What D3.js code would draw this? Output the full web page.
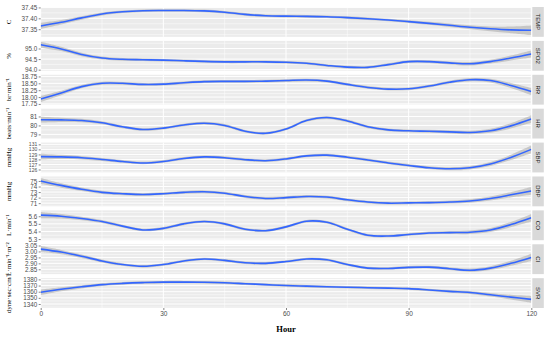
<!DOCTYPE html>
<html><head><meta charset="utf-8">
<script src="https://cdn.jsdelivr.net/npm/d3@7"></script>
<style>body{margin:0;background:#fff}</style>
</head><body>
<svg id="c" width="550" height="337"></svg>
<script>
// ---------------- DATA ----------------
const hours = [0,5,10,15,20,25,30,35,40,45,50,55,60,65,70,75,80,85,90,95,100,105,110,115,120];
const panels = ["TEMP","SPO2","RR","HR","SBP","DBP","CO","CI","SVR"];
const units = ["C","%","br·min⁻¹","beats·min⁻¹","mmHg","mmHg","L·min⁻¹","L·min⁻¹·m⁻²","dyne·sec·cm⁻⁵"];
const xTicks = [0,30,60,90,120];

const valTEMP = [37.365,37.382,37.402,37.420,37.430,37.435,37.436,37.436,37.434,37.428,37.418,37.412,37.410,37.409,37.407,37.403,37.398,37.392,37.385,37.377,37.368,37.359,37.352,37.347,37.345];
const valSPO2 = [95.18,94.98,94.72,94.55,94.49,94.47,94.45,94.42,94.39,94.37,94.37,94.37,94.35,94.30,94.20,94.12,94.11,94.24,94.38,94.38,94.32,94.28,94.38,94.55,94.74];
const valRR   = [17.93,18.15,18.38,18.50,18.50,18.46,18.47,18.52,18.56,18.57,18.57,18.58,18.60,18.62,18.58,18.46,18.35,18.29,18.30,18.40,18.54,18.63,18.60,18.42,18.20];
const valHR   = [80.64,80.62,80.55,80.30,79.85,79.55,79.70,80.05,80.25,80.00,79.35,79.12,79.60,80.55,80.88,80.50,79.85,79.50,79.40,79.35,79.28,79.22,79.40,79.95,80.71];
const valSBP  = [128.55,128.50,128.35,128.00,127.60,127.30,127.60,128.20,128.50,128.35,127.95,127.75,128.10,128.70,128.85,128.45,127.90,127.30,126.80,126.35,126.15,126.35,127.10,128.40,130.00];
const valDBP  = [75.00,74.20,73.50,72.95,72.70,72.55,72.70,72.95,73.05,72.80,72.20,71.85,72.00,72.20,72.10,71.60,71.20,71.00,71.05,71.10,71.20,71.40,71.85,72.50,73.20];
const valCO   = [5.615,5.600,5.570,5.530,5.470,5.420,5.440,5.500,5.530,5.500,5.430,5.410,5.460,5.535,5.520,5.430,5.350,5.340,5.360,5.380,5.385,5.390,5.420,5.490,5.580];
const valCI   = [3.020,2.995,2.960,2.920,2.890,2.875,2.890,2.920,2.937,2.925,2.905,2.900,2.915,2.937,2.930,2.890,2.860,2.857,2.866,2.868,2.855,2.842,2.860,2.900,2.950];
const valSVR  = [1359,1364,1368,1371.5,1373.5,1374.8,1375.5,1375.6,1375.3,1374.5,1373,1371.5,1370,1369,1368,1367.2,1366.5,1365.8,1365,1362.8,1360.5,1358.7,1355,1351.2,1347.5];

// half-width of the confidence band (data units)
const seTEMP = [0.014,0.010,0.008,0.007,0.006,0.006,0.006,0.006,0.006,0.006,0.006,0.006,0.006,0.006,0.006,0.006,0.006,0.006,0.006,0.007,0.008,0.009,0.011,0.015,0.022];
const seSPO2 = [0.14,0.10,0.08,0.07,0.065,0.06,0.06,0.06,0.06,0.06,0.06,0.06,0.06,0.06,0.06,0.06,0.06,0.06,0.06,0.065,0.07,0.08,0.09,0.12,0.17];
const seRR   = [0.11,0.08,0.06,0.055,0.05,0.05,0.05,0.05,0.05,0.05,0.05,0.05,0.05,0.05,0.05,0.05,0.05,0.05,0.05,0.05,0.055,0.06,0.07,0.09,0.13];
const seHR   = [0.33,0.24,0.19,0.17,0.15,0.15,0.15,0.15,0.15,0.15,0.15,0.15,0.15,0.15,0.15,0.15,0.15,0.15,0.15,0.16,0.17,0.19,0.22,0.29,0.42];
const seSBP  = [0.60,0.43,0.34,0.30,0.28,0.27,0.27,0.27,0.27,0.27,0.27,0.27,0.27,0.27,0.27,0.27,0.27,0.27,0.27,0.28,0.30,0.34,0.40,0.52,0.75];
const seDBP  = [0.55,0.40,0.31,0.28,0.26,0.25,0.25,0.25,0.25,0.25,0.25,0.25,0.25,0.25,0.25,0.25,0.25,0.25,0.25,0.26,0.28,0.32,0.37,0.48,0.70];
const seCO   = [0.040,0.029,0.023,0.020,0.018,0.017,0.017,0.017,0.017,0.017,0.017,0.017,0.017,0.017,0.017,0.017,0.017,0.017,0.017,0.018,0.020,0.023,0.026,0.034,0.050];
const seCI   = [0.025,0.018,0.014,0.012,0.011,0.011,0.011,0.011,0.011,0.011,0.011,0.011,0.011,0.011,0.011,0.011,0.011,0.011,0.011,0.011,0.012,0.014,0.016,0.021,0.030];
const seSVR  = [4.6,3.4,2.6,2.3,2.1,2.0,2.0,2.0,2.0,2.0,2.0,2.0,2.0,2.0,2.0,2.0,2.0,2.0,2.0,2.1,2.3,2.6,3.0,3.9,5.6];

const yDomains = [[37.315,37.452],[93.95,95.36],[17.725,18.81],[78.54,81.87],[125.42,131.35],[70.43,75.81],[5.285,5.677],[2.8095,3.0605],[1333.5,1382]];
const yTicksTEMP = [37.35,37.40,37.45];
const yTicksSPO2 = [94.0,94.5,95.0];
const yTicksRR   = [17.75,18.00,18.25,18.50,18.75];
const yTicksHR   = [79,80,81];
const yTicksSBP  = [126,127,128,129,130,131];
const yTicksDBP  = [71,72,73,74,75];
const yTicksCO   = [5.3,5.4,5.5,5.6];
const yTicksCI   = [2.85,2.90,2.95,3.00,3.05];
const yTicksSVR  = [1340,1350,1360,1370,1380];

const values = [valTEMP,valSPO2,valRR,valHR,valSBP,valDBP,valCO,valCI,valSVR];
const ses = [seTEMP,seSPO2,seRR,seHR,seSBP,seDBP,seCO,seCI,seSVR];
const yTicks = [yTicksTEMP,yTicksSPO2,yTicksRR,yTicksHR,yTicksSBP,yTicksDBP,yTicksCO,yTicksCI,yTicksSVR];
const tickFmt = [".2f",".1f",".2f","d","d","d",".1f",".2f","d"];

// ---------------- DRAW ----------------
const svg = d3.select("#c");
const x = d3.scaleLinear().domain([0,120]).range([40.7,531.3]);
const band = d3.scaleBand().domain(panels).range([7,308]).paddingInner(0.12);
const h = band.bandwidth();
const tickCol = "#333333", labCol = "#4D4D4D";
const sans = "'Liberation Sans', Arial, sans-serif";
const serif = "'Liberation Serif', 'Times New Roman', serif";
const xMinor = [15,45,75,105];

panels.forEach((p,i)=>{
  const top = band(p);
  const y = d3.scaleLinear().domain(yDomains[i]).range([top+h, top]);
  const g = svg.append("g");
  const clipId = "clip"+i;
  svg.append("clipPath").attr("id",clipId).append("rect")
    .attr("x",x(0)).attr("y",top).attr("width",x(120)-x(0)).attr("height",h);
  g.append("rect").attr("x",x(0)).attr("y",top).attr("width",x(120)-x(0)).attr("height",h).attr("fill","#EBEBEB");

  const tk = yTicks[i];
  const step = tk[1]-tk[0];
  const minors = [];
  tk.forEach(t=>minors.push(t-step/2));
  minors.push(tk[tk.length-1]+step/2);
  const [d0,d1] = yDomains[i];
  g.selectAll(".ymin").data(minors.filter(m=>m>d0&&m<d1)).enter().append("line")
    .attr("x1",x(0)).attr("x2",x(120)).attr("y1",d=>y(d)).attr("y2",d=>y(d))
    .attr("stroke","#fff").attr("stroke-width",0.5);
  g.selectAll(".xmin").data(xMinor).enter().append("line")
    .attr("x1",d=>x(d)).attr("x2",d=>x(d)).attr("y1",top).attr("y2",top+h)
    .attr("stroke","#fff").attr("stroke-width",0.5);
  g.selectAll(".ymaj").data(tk).enter().append("line")
    .attr("x1",x(0)).attr("x2",x(120)).attr("y1",d=>y(d)).attr("y2",d=>y(d))
    .attr("stroke","#fff").attr("stroke-width",1);
  g.selectAll(".xmaj").data(xTicks).enter().append("line")
    .attr("x1",d=>x(d)).attr("x2",d=>x(d)).attr("y1",top).attr("y2",top+h)
    .attr("stroke","#fff").attr("stroke-width",1);

  const data = hours.map((hr,k)=>({hr, v:values[i][k], se:ses[i][k]}));
  const curve = d3.curveCatmullRom.alpha(0.5);
  const pg = g.append("g").attr("clip-path",`url(#${clipId})`);
  pg.append("path").datum(data)
    .attr("d", d3.area().curve(curve).x(d=>x(d.hr)).y0(d=>y(d.v-d.se)).y1(d=>y(d.v+d.se)))
    .attr("fill","#999999").attr("fill-opacity",0.45);
  pg.append("path").datum(data)
    .attr("d", d3.line().curve(curve).x(d=>x(d.hr)).y(d=>y(d.v)))
    .attr("fill","none").attr("stroke","#3366FF").attr("stroke-width",1.6);

  // y axis
  const ax = g.append("g").attr("transform",`translate(${x(0)},0)`)
    .call(d3.axisLeft(y).tickValues(tk).tickFormat(d3.format(tickFmt[i])).tickSize(2).tickPadding(1.5));
  ax.select(".domain").remove();
  ax.selectAll(".tick line").attr("stroke",tickCol).attr("stroke-width",0.6);
  ax.selectAll(".tick text").attr("fill",labCol).attr("font-size", tk.length>5 ? "5px" : "6.3px").attr("font-family",sans);

  // strip
  g.append("rect").attr("x",532.3).attr("y",top).attr("width",11.5).attr("height",h).attr("fill","#D9D9D9");
  g.append("text").attr("transform",`translate(${538},${top+h/2}) rotate(90)`)
    .attr("text-anchor","middle").attr("dominant-baseline","central")
    .attr("font-size","6px").attr("font-family",sans).attr("fill","#1A1A1A").text(p);

  // unit title
  g.append("text").attr("transform",`translate(9,${top+h/2}) rotate(-90)`)
    .attr("text-anchor","middle").attr("dominant-baseline","central")
    .attr("font-size","7px").attr("font-family",serif).attr("fill","#000").text(units[i]);

  if(i===panels.length-1){
    const xa = svg.append("g").attr("transform",`translate(0,${top+h})`)
      .call(d3.axisBottom(x).tickValues(xTicks).tickFormat(d3.format("d")).tickSize(2).tickPadding(1.5));
    xa.select(".domain").remove();
    xa.selectAll(".tick line").attr("stroke",tickCol).attr("stroke-width",0.6);
    xa.selectAll(".tick text").attr("fill",labCol).attr("font-size","6.5px").attr("font-family",sans);
  }
});

svg.append("text").attr("x",(x(0)+x(120))/2).attr("y",332)
  .attr("text-anchor","middle").attr("font-size","8.5px").attr("font-weight","bold")
  .attr("font-family",serif).attr("fill","#000").text("Hour");
</script>
</body></html>
